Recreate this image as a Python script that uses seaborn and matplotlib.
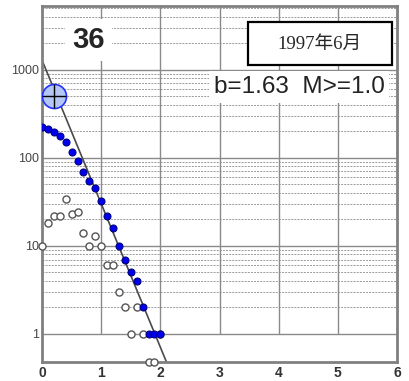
import numpy as np
import pandas as pd
import matplotlib
matplotlib.use("Agg")
import matplotlib.pyplot as plt
from matplotlib.ticker import FixedLocator, NullFormatter, FixedFormatter
from matplotlib.patches import Rectangle
import seaborn as sns

# ---- data ----
magnitudes = [0.0, 0.1, 0.2, 0.3, 0.4, 0.5, 0.6, 0.7, 0.8, 0.9, 1.0,
              1.1, 1.2, 1.3, 1.4, 1.5, 1.6, 1.7, 1.8, 1.9, 2.0]
cumulative = [226, 215, 196, 175, 153, 117, 93, 69, 55, 45, 32,
              22, 16, 10, 7, 5, 4, 2, 1, 1, 1]
counts = [10, 18, 22, 22, 34, 23, 24, 14, 10, 13, 10,
          6, 6, 3, 2, 1, 2, 1, 0, 0, 1]
b_value = 1.63
a_value = 3.11
m_min = 1.0
fit_range = [0.0, 2.3]
marker_m = [0.2]
marker_n = [500]
x_ticks = [0, 1, 2, 3, 4, 5, 6]
y_ticks = [1, 10, 100, 1000]
y_tick_labels = ["1", "10", "100", "1000"]
title_num = "36"
date_label = "1997年6月"
ylim = (0.48, 5300)

# ---- figure ----
sns.set_style("white")
plt.rcParams['font.family'] = ['Liberation Sans', 'DejaVu Sans']
fig = plt.figure(figsize=(4.09, 3.81), dpi=100)
ax = fig.add_axes([42/409, 19/381, 355/409, 356/381])
ax.set_yscale('log')
ax.set_xlim(0, 6)
ax.set_ylim(*ylim)

# grid
minor = [k * 10**d for d in range(0, 4) for k in range(2, 10)]
ax.yaxis.set_major_locator(FixedLocator(y_ticks))
ax.yaxis.set_major_formatter(FixedFormatter(y_tick_labels))
ax.yaxis.set_minor_locator(FixedLocator(minor))
ax.yaxis.set_minor_formatter(NullFormatter())
ax.xaxis.set_major_locator(FixedLocator(x_ticks))
ax.grid(False)
for v in minor:
    ax.axhline(v, color='#9a9a9a', lw=0.7, ls=(0, (2, 1.2)), zorder=0.5)
for v in y_ticks:
    ax.axhline(v, color='#8a8a8a', lw=1.0, zorder=0.6)
ax.vlines(x_ticks[1:-1], y_ticks[0], ylim[1], color='#8a8a8a', lw=1.0, zorder=0.6)

# fit line
fit_df = pd.DataFrame({'M': fit_range,
                       'N': [10 ** (a_value - b_value * m) for m in fit_range]})
sns.lineplot(data=fit_df, x='M', y='N', ax=ax, color='#4a4a4a', lw=1.2, zorder=2)

# non-cumulative (open circles); zero counts sit on the bottom axis
nc_df = pd.DataFrame({'M': magnitudes,
                      'N': [c if c > 0 else ylim[0] for c in counts]})
sns.scatterplot(data=nc_df, x='M', y='N', ax=ax, s=26, marker='o',
                facecolor='white', edgecolor='#555555', linewidth=1.0,
                zorder=3, clip_on=False)

# cumulative (filled blue)
cum_df = pd.DataFrame({'M': magnitudes, 'N': cumulative})
sns.scatterplot(data=cum_df, x='M', y='N', ax=ax, s=26, marker='o',
                color='#0000ee', edgecolor='#000070', linewidth=0.7, zorder=4)

# big marker with cross
mk_df = pd.DataFrame({'M': marker_m, 'N': marker_n})
sns.scatterplot(data=mk_df, x='M', y='N', ax=ax, s=300, marker='o',
                color='#b3c6f4', edgecolor='#2233ff', linewidth=1.2, zorder=5)
sns.scatterplot(data=mk_df, x='M', y='N', ax=ax, s=300, marker='+',
                color='black', linewidth=1.0, zorder=6)

# texts
ax.text(0.13, 0.905, title_num, transform=ax.transAxes, ha='center', va='center',
        fontsize=21, fontweight='bold', fontstretch='condensed',
        family=['Liberation Sans Narrow', 'Liberation Sans', 'DejaVu Sans'],
        bbox=dict(boxstyle='square,pad=0.25', fc='white', ec='none'), zorder=7)
ax.add_patch(Rectangle((0.580, 0.834), 0.406, 0.121, transform=ax.transAxes,
                       fc='white', ec='black', lw=1.6, zorder=7))
ax.text(0.783, 0.893, date_label, transform=ax.transAxes, ha='center', va='center',
        fontsize=13.5, family=['Liberation Serif', 'Noto Sans CJK JP'], zorder=8)
ax.text(0.724, 0.772, f"b={b_value:.2f}  M>={m_min:.1f}", transform=ax.transAxes,
        ha='center', va='center', fontsize=17.5, color='#222222',
        bbox=dict(boxstyle='square,pad=0.2', fc='white', ec='none'), zorder=7)

# axes styling
ax.set_xlabel('')
ax.set_ylabel('')
for s in ax.spines.values():
    s.set_color('#808080')
    s.set_linewidth(2)
ax.tick_params(axis='both', which='major', direction='in', length=4, width=1,
               color='#555555')
ax.tick_params(axis='y', which='major', labelsize=9, labelcolor='#444444', pad=2)
ax.tick_params(axis='x', which='major', labelsize=10, labelcolor='#333333', pad=3)
ax.tick_params(axis='y', which='minor', length=0)
for lbl in ax.get_xticklabels():
    lbl.set_fontweight('bold')
if ax.get_legend():
    ax.get_legend().remove()

fig.savefig('out.png', dpi=100)
